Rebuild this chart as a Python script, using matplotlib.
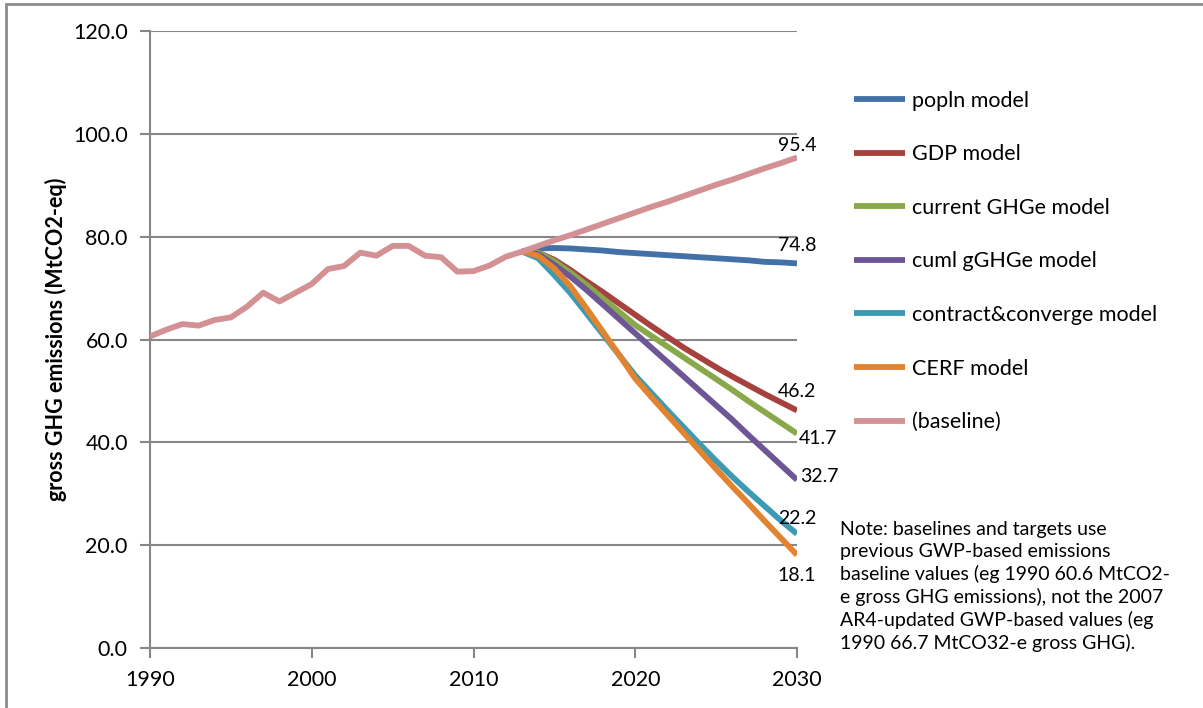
import matplotlib
matplotlib.use("Agg")
import matplotlib.pyplot as plt
from matplotlib.patches import Rectangle

plt.rcParams['font.family'] = ['Lato', 'DejaVu Sans']

hist_years = list(range(1990, 2014))
baseline_hist = [60.6, 61.9, 63.0, 62.7, 63.8, 64.3, 66.4, 69.1, 67.4, 69.1,
                 70.8, 73.7, 74.3, 76.9, 76.3, 78.2, 78.2, 76.3, 76.0, 73.2,
                 73.3, 74.4, 76.1, 77.1]

proj_years = list(range(2013, 2031))
baseline_proj = [77.1, 78.2, 79.3, 80.3, 81.4, 82.5, 83.6, 84.7, 85.8, 86.8,
                 87.9, 89.0, 90.1, 91.1, 92.2, 93.3, 94.3, 95.4]
popln = [77.1, 77.7, 77.8, 77.7, 77.5, 77.3, 77.0, 76.8, 76.6, 76.4,
         76.2, 76.0, 75.8, 75.6, 75.4, 75.1, 75.0, 74.8]
gdp = [77.1, 76.9, 75.5, 73.5, 71.3, 69.2, 67.0, 64.8, 62.6, 60.5,
       58.4, 56.5, 54.6, 52.8, 51.1, 49.4, 47.8, 46.2]
current = [77.1, 76.9, 75.2, 73.0, 70.6, 68.0, 65.4, 62.8, 60.7, 58.6,
           56.5, 54.4, 52.3, 50.2, 48.0, 45.9, 43.8, 41.7]
cuml = [77.1, 76.6, 74.5, 72.2, 69.6, 66.8, 64.0, 61.2, 58.4, 55.6,
        52.8, 50.0, 47.2, 44.4, 41.4, 38.5, 35.6, 32.7]
contract = [77.1, 75.8, 72.5, 69.0, 65.0, 61.0, 57.0, 53.0, 49.6, 46.2,
            42.9, 39.6, 36.4, 33.3, 30.4, 27.6, 24.8, 22.2]
cerf = [77.1, 76.3, 73.8, 70.3, 66.0, 61.5, 57.0, 52.4, 48.8, 45.3,
        41.8, 38.3, 34.8, 31.4, 28.1, 24.7, 21.4, 18.1]

series_names = ["popln model", "GDP model", "current GHGe model", "cuml gGHGe model",
                "contract&converge model", "CERF model", "(baseline)"]
colors = ["#4470A8", "#A7413E", "#88A84A", "#6E5596", "#3C9AB4", "#E1832F", "#D39193"]

yticks = [0, 20, 40, 60, 80, 100, 120]
xticks = [1990, 2000, 2010, 2020, 2030]

W, H = 1203, 708
fig = plt.figure(figsize=(W / 100, H / 100), dpi=100)
ax = fig.add_axes([150 / W, (H - 648) / H, (797 - 150) / W, (648 - 31) / H])

# figure border (top and left visible)
fig.patches.append(Rectangle((6 / W, -0.05), 1.2, (H - 4) / H + 0.05, transform=fig.transFigure,
                             fill=False, edgecolor="#8c8c8c", linewidth=2))

lw = 4.2
proj = [popln, gdp, current, cuml, contract, cerf]
base_full_x = hist_years + proj_years[1:]
base_full_y = baseline_hist + baseline_proj[1:]
handles = []
for data, c, name in zip(proj, colors[:6], series_names[:6]):
    h, = ax.plot(proj_years, data, color=c, lw=lw, solid_capstyle='butt',
                 solid_joinstyle='round', label=name, zorder=3)
    handles.append(h)
hb, = ax.plot(base_full_x, base_full_y, color=colors[6], lw=lw, solid_capstyle='butt',
              solid_joinstyle='round', label=series_names[6], zorder=4)
handles.append(hb)

ax.set_xlim(1990, 2030)
ax.set_ylim(0, 120)
ax.set_yticks(yticks)
ax.set_yticklabels([f"{v:.1f}" for v in yticks])
ax.set_xticks(xticks)
ax.set_xticklabels([str(v) for v in xticks])
ax.tick_params(axis='both', labelsize=15.5, colors="#878787", labelcolor="black",
               length=7, width=1.5)
ax.tick_params(axis='y', pad=9)
ax.tick_params(axis='x', pad=9)
ax.grid(axis='y', color="#878787", lw=1.5)
ax.set_axisbelow(True)
for s in ['top', 'right']:
    ax.spines[s].set_visible(False)
for s in ['left', 'bottom']:
    ax.spines[s].set_color("#878787")
    ax.spines[s].set_linewidth(1.5)
ax.set_ylabel("gross GHG emissions (MtCO2-eq)", fontsize=15.5, fontweight='bold', labelpad=4)

# end labels
lab_fs = 14
end_vals = [baseline_proj[-1], popln[-1], gdp[-1], current[-1], cuml[-1], contract[-1], cerf[-1]]
offsets = [(0, 12, 'center'), (0, 18, 'center'), (0, 19, 'center'), (2, -5, 'left'),
           (3, 3, 'left'), (0, 15, 'center'), (0, -21, 'center')]
for v, (dx, dy, ha) in zip(end_vals, offsets):
    ax.annotate(f"{v:.1f}", xy=(2030, v), xytext=(dx, dy), textcoords='offset pixels',
                ha=ha, va='center', fontsize=lab_fs, annotation_clip=False)

leg = fig.legend(handles=handles, loc='upper left', bbox_to_anchor=(845 / W, 1 - 82 / H),
                 frameon=False, fontsize=15.5, handlelength=2.4, handletextpad=0.3,
                 labelspacing=1.56, borderaxespad=0)

note = ("Note: baselines and targets use\nprevious GWP-based emissions\n"
        "baseline values (eg 1990 60.6 MtCO2-\ne gross GHG emissions), not the 2007\n"
        "AR4-updated GWP-based values (eg\n1990 66.7 MtCO32-e gross GHG).")
fig.text(840 / W, 1 - 521 / H, note, ha='left', va='top', fontsize=14, linespacing=1.33)

fig.savefig("out.png", dpi=100)
